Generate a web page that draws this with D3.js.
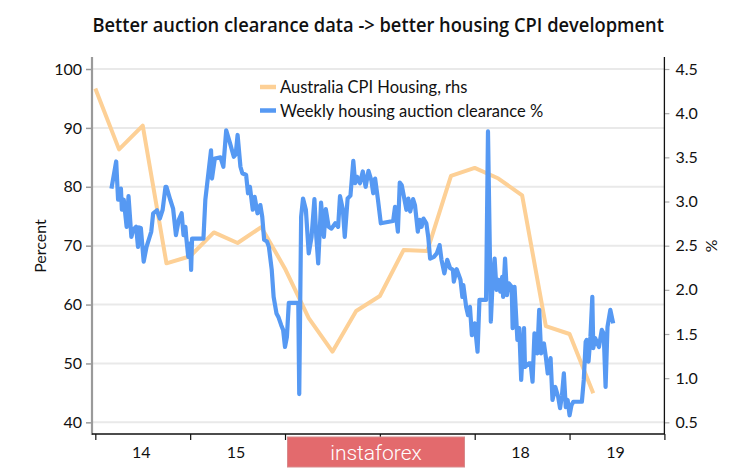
<!DOCTYPE html>
<html>
<head>
<meta charset="utf-8">
<script src="https://cdn.jsdelivr.net/npm/d3@7"></script>
<style>
  html, body { margin: 0; padding: 0; background: #fff; }
  svg { display: block; }
  text { font-family: Lato, "Noto Sans", sans-serif; fill: #111; }
</style>
</head>
<body>
<svg id="chart" width="751" height="469"></svg>
<script>
// ---------------- data ----------------
const titleText = "Better auction clearance data -> better housing CPI development";
const leftTicks = [40, 50, 60, 70, 80, 90, 100];
const rightTicks = [0.5, 1.0, 1.5, 2.0, 2.5, 3.0, 3.5, 4.0, 4.5];
const yearTicks = [2014, 2015, 2016, 2017, 2018, 2019, 2020];
// labels for 16 and 17 are hidden under the watermark in the reference
const yearLabels = ["14", "15", "", "", "18", "19"];
const legendLabels = ["Australia CPI Housing, rhs", "Weekly housing auction clearance %"];

// Australia CPI Housing (quarterly, % y/y, right axis)
const cpiDates = [2014.00, 2014.25, 2014.50, 2014.75, 2015.00, 2015.25, 2015.50, 2015.75,
                  2016.00, 2016.25, 2016.50, 2016.75, 2017.00, 2017.25, 2017.50, 2017.75,
                  2018.00, 2018.25, 2018.50, 2018.75, 2019.00, 2019.25];
const cpiValues = [4.28, 3.59, 3.86, 2.30, 2.38, 2.65, 2.53, 2.71,
                   2.24, 1.68, 1.30, 1.76, 1.93, 2.45, 2.44, 3.29,
                   3.38, 3.26, 3.07, 1.59, 1.50, 0.83];

// Weekly housing auction clearance % (left axis)
const auctionDates = [
  2014.17, 2014.22, 2014.24, 2014.27, 2014.28, 2014.30, 2014.33, 2014.35, 2014.38, 2014.40,
  2014.43, 2014.45, 2014.46, 2014.48, 2014.51, 2014.54, 2014.59, 2014.61, 2014.65, 2014.68,
  2014.71, 2014.74, 2014.75, 2014.79, 2014.82, 2014.85, 2014.88, 2014.91, 2014.93, 2014.95,
  2014.96, 2014.98, 2015.00, 2015.01, 2015.02, 2015.14, 2015.16, 2015.22, 2015.23, 2015.26,
  2015.32, 2015.35, 2015.38, 2015.42, 2015.46, 2015.48, 2015.50, 2015.53, 2015.55, 2015.59,
  2015.61, 2015.63, 2015.66, 2015.68, 2015.71, 2015.74, 2015.76, 2015.78, 2015.81, 2015.83,
  2015.86, 2015.88, 2015.91, 2015.93, 2015.96, 2015.98, 2016.00, 2016.02, 2016.04, 2016.14,
  2016.15, 2016.17, 2016.19, 2016.22, 2016.25, 2016.28, 2016.31, 2016.33, 2016.35, 2016.38,
  2016.41, 2016.43, 2016.46, 2016.49, 2016.53, 2016.56, 2016.58, 2016.61, 2016.63, 2016.66,
  2016.69, 2016.72, 2016.74, 2016.76, 2016.79, 2016.82, 2016.85, 2016.88, 2016.91, 2016.93,
  2016.95, 2016.98, 2017.01, 2017.14, 2017.16, 2017.19, 2017.21, 2017.23, 2017.26, 2017.28,
  2017.30, 2017.32, 2017.35, 2017.37, 2017.40, 2017.42, 2017.44, 2017.46, 2017.49, 2017.51,
  2017.53, 2017.57, 2017.60, 2017.63, 2017.65, 2017.68, 2017.71, 2017.74, 2017.77, 2017.78,
  2017.81, 2017.85, 2017.87, 2017.88, 2017.91, 2017.93, 2017.95, 2017.97, 2018.00, 2018.03,
  2018.05, 2018.12, 2018.14, 2018.16, 2018.17, 2018.19, 2018.21, 2018.23, 2018.25, 2018.27,
  2018.29, 2018.30, 2018.32, 2018.34, 2018.36, 2018.39, 2018.40, 2018.42, 2018.45, 2018.47,
  2018.49, 2018.52, 2018.53, 2018.57, 2018.59, 2018.61, 2018.63, 2018.66, 2018.68, 2018.70,
  2018.73, 2018.75, 2018.77, 2018.80, 2018.82, 2018.85, 2018.88, 2018.90, 2018.92, 2018.94,
  2018.96, 2018.98, 2019.00, 2019.02, 2019.04, 2019.13, 2019.15, 2019.17, 2019.18, 2019.20,
  2019.22, 2019.24, 2019.25, 2019.27, 2019.31, 2019.34, 2019.36, 2019.38, 2019.40, 2019.43,
  2019.46];
const auctionValues = [
  79.7, 84.3, 77.8, 79.7, 76.1, 77.8, 73.2, 78.4, 71.5, 72.7,
  73.2, 69.8, 73.1, 73.0, 67.3, 69.8, 72.4, 75.5, 76.0, 74.6,
  76.1, 80.0, 80.0, 77.8, 76.3, 71.8, 74.4, 75.5, 71.8, 73.2,
  71.2, 68.1, 70.4, 65.9, 71.2, 71.2, 77.8, 86.2, 81.4, 84.8,
  85.0, 83.4, 89.6, 87.4, 85.1, 85.5, 88.8, 83.4, 82.3, 82.0,
  78.9, 80.0, 76.1, 78.3, 75.5, 76.9, 74.9, 71.0, 70.7, 69.8,
  65.9, 61.3, 58.5, 57.9, 56.5, 55.7, 52.8, 54.5, 60.3, 60.3,
  44.8, 74.9, 78.0, 76.1, 68.7, 71.5, 77.9, 71.5, 67.0, 77.3,
  71.5, 76.2, 73.2, 72.9, 73.8, 73.2, 78.4, 76.1, 71.5, 78.0,
  78.5, 84.4, 80.6, 81.7, 80.6, 82.6, 80.0, 82.7, 81.1, 78.9,
  81.4, 77.8, 73.8, 74.2, 76.6, 72.4, 80.7, 80.3, 77.8, 76.1,
  78.0, 75.8, 77.9, 76.9, 72.4, 74.4, 73.2, 74.6, 73.8, 71.5,
  67.8, 68.1, 68.7, 70.1, 67.6, 65.3, 67.6, 66.2, 65.9, 63.9,
  66.0, 64.2, 61.3, 63.3, 59.6, 58.2, 59.6, 54.8, 56.8, 52.0,
  60.8, 60.8, 89.4, 68.7, 57.1, 64.2, 67.8, 62.5, 64.2, 62.2,
  64.7, 61.3, 67.8, 61.6, 63.6, 63.0, 56.0, 63.0, 54.0, 56.0,
  47.2, 56.0, 49.4, 50.0, 50.0, 46.9, 55.1, 51.7, 59.1, 51.7,
  53.4, 51.1, 48.3, 50.9, 43.8, 46.0, 44.3, 42.4, 44.6, 48.3,
  42.6, 43.8, 41.2, 42.9, 43.5, 43.5, 47.2, 53.7, 54.0, 50.3,
  54.5, 61.3, 52.6, 54.3, 52.8, 55.7, 55.1, 46.0, 56.2, 59.1,
  56.8];

const cpiColor = "#fdd096";
const auctionColor = "#5699f3";

// ---------------- layout ----------------
const svg = d3.select("#chart");
const plot = { left: 92, right: 664.4, top: 57, bottom: 434 };

const x = d3.scaleLinear().domain([2013.965, 2020.0]).range([plot.left, plot.right]);
const yL = d3.scaleLinear().domain([38.02, 102.04]).range([plot.bottom, plot.top]);
const yR = d3.scaleLinear().domain([0.368, 4.636]).range([plot.bottom, plot.top]);

// gridlines
svg.append("g").selectAll("line").data(leftTicks).join("line")
  .attr("x1", plot.left).attr("x2", plot.right)
  .attr("y1", d => yL(d)).attr("y2", d => yL(d))
  .attr("stroke", "#e9e9e9").attr("stroke-width", 2);

// title (condensed look: horizontally scaled to fit the reference width)
const titleG = svg.append("g");
const title = titleG.append("text")
  .attr("x", 0).attr("y", 0)
  .attr("text-anchor", "middle")
  .style("font-family", "'Open Sans', Roboto, sans-serif")
  .style("font-weight", 600)
  .style("font-size", "19px")
  .text(titleText);
{
  const w = title.node().getComputedTextLength();
  const target = 572;
  titleG.attr("transform", `translate(${(plot.left + plot.right) / 2},32) scale(${target / w},1)`);
}

// left axis
const leftAxis = svg.append("g").attr("transform", `translate(${plot.left},0)`)
  .call(d3.axisLeft(yL).tickValues(leftTicks).tickSize(6).tickPadding(4).tickFormat(d3.format("d")));
leftAxis.select(".domain").remove();
leftAxis.selectAll(".tick line").attr("stroke", "#9a9a9a").attr("stroke-width", 1.5);
leftAxis.selectAll(".tick text").style("font-size", "16px").style("font-family", "Lato, sans-serif").attr("fill", "#111");
svg.append("line").attr("x1", plot.left).attr("x2", plot.left)
  .attr("y1", plot.top).attr("y2", plot.bottom + 1)
  .attr("stroke", "#9a9a9a").attr("stroke-width", 2.2);

// right axis
const rightAxis = svg.append("g").attr("transform", `translate(${plot.right},0)`)
  .call(d3.axisRight(yR).tickValues(rightTicks).tickSize(5).tickPadding(6).tickFormat(d3.format(".1f")));
rightAxis.select(".domain").remove();
rightAxis.selectAll(".tick line").attr("stroke", "#aaa").attr("stroke-width", 1.2);
rightAxis.selectAll(".tick text").style("font-size", "16px").style("font-family", "Lato, sans-serif").attr("fill", "#111");
svg.append("line").attr("x1", plot.right).attr("x2", plot.right)
  .attr("y1", plot.top).attr("y2", plot.bottom)
  .attr("stroke", "#111").attr("stroke-width", 1.3);

// bottom axis
const bottomAxis = svg.append("g").attr("transform", `translate(0,${plot.bottom})`)
  .call(d3.axisBottom(x).tickValues(yearTicks).tickSize(6).tickFormat(""));
bottomAxis.select(".domain").remove();
bottomAxis.selectAll(".tick line").attr("stroke", "#111").attr("stroke-width", 1.2);
svg.append("line").attr("x1", plot.left).attr("x2", plot.right + 0.6)
  .attr("y1", plot.bottom).attr("y2", plot.bottom)
  .attr("stroke", "#111").attr("stroke-width", 1.5);
svg.append("g").selectAll("text")
  .data(yearLabels.map((d, i) => ({ label: d, year: yearTicks[i] })).filter(d => d.label))
  .join("text")
  .attr("x", d => x(d.year + 0.5) - 1.5)
  .attr("y", 458)
  .attr("text-anchor", "middle")
  .style("font-size", "16px")
  .text(d => d.label);

// axis titles
svg.append("text")
  .attr("transform", `translate(46,246) rotate(-90)`)
  .attr("text-anchor", "middle")
  .style("font-size", "16px")
  .text("Percent");
svg.append("text")
  .attr("transform", `translate(706,246) rotate(90)`)
  .attr("text-anchor", "middle")
  .style("font-size", "16px")
  .text("%");

// lines
const lineCpi = d3.line().x((d, i) => x(cpiDates[i])).y(d => yR(d));
const lineAuc = d3.line().x((d, i) => x(auctionDates[i])).y(d => yL(d));

svg.append("path").datum(cpiValues)
  .attr("d", lineCpi).attr("fill", "none")
  .attr("stroke", cpiColor).attr("stroke-width", 4)
  .attr("stroke-linejoin", "round");
svg.append("path").datum(auctionValues)
  .attr("d", lineAuc).attr("fill", "none")
  .attr("stroke", auctionColor).attr("stroke-width", 4.2)
  .attr("stroke-linejoin", "round");

// legend
const legend = svg.append("g");
[cpiColor, auctionColor].forEach((c, i) => {
  legend.append("line")
    .attr("x1", 260).attr("x2", 276)
    .attr("y1", 87 + i * 23.5).attr("y2", 87 + i * 23.5)
    .attr("stroke", c).attr("stroke-width", 4.5);
  legend.append("text")
    .attr("x", 280).attr("y", 93 + i * 23.5)
    .style("font-size", "16.5px")
    .text(legendLabels[i]);
});

// watermark
svg.append("rect")
  .attr("x", 287.5).attr("y", 437).attr("width", 177).attr("height", 30)
  .attr("fill", "#e36a6d").attr("stroke", "#d8898b").attr("stroke-width", 1);
svg.append("text")
  .attr("x", 376).attr("y", 459.5)
  .attr("text-anchor", "middle")
  .style("font-family", "Roboto, sans-serif")
  .style("font-weight", 300)
  .style("font-size", "21px")
  .style("fill", "#fff")
  .text("instaforex");
</script>
</body>
</html>
